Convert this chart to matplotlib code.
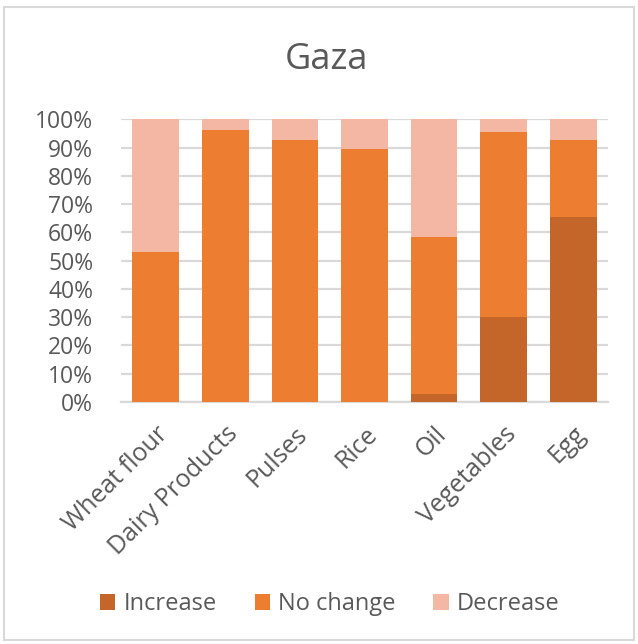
import matplotlib
matplotlib.use("Agg")
import matplotlib.pyplot as plt
from matplotlib.patches import Rectangle
import numpy as np

categories = ["Wheat flour", "Dairy Products", "Pulses", "Rice", "Oil", "Vegetables", "Egg"]
increase = [0.0, 0.0, 0.0, 0.0, 3.0, 30.2, 65.4]
no_change = [52.9, 96.3, 92.7, 89.6, 55.2, 65.2, 27.3]
decrease = [47.1, 3.7, 7.3, 10.4, 41.8, 4.6, 7.3]
series_names = ["Increase", "No change", "Decrease"]
colors = ["#C4662A", "#ED7D31", "#F4B7A3"]
yticks = [0, 10, 20, 30, 40, 50, 60, 70, 80, 90, 100]

plt.rcParams['font.family'] = ['Open Sans', 'DejaVu Sans']
text_color = "#595959"

fig = plt.figure(figsize=(6.38, 6.44), dpi=100)
ax = fig.add_axes([121/638, (644-402)/644, (608-121)/638, (402-119.3)/644])

x = np.arange(len(categories))
inc = np.array(increase) / 100
nc = np.array(no_change) / 100
dec = np.array(decrease) / 100
w = 0.67
ax.bar(x, inc, w, color=colors[0], label=series_names[0], zorder=3)
ax.bar(x, nc, w, bottom=inc, color=colors[1], label=series_names[1], zorder=3)
ax.bar(x, dec, w, bottom=inc + nc, color=colors[2], label=series_names[2], zorder=3)

ax.set_xlim(-0.5, len(categories) - 0.5)
ax.set_ylim(0, 1)
ax.set_yticks([t / 100 for t in yticks])
ax.set_yticklabels([f"{t}%" for t in yticks], fontsize=16.5, color=text_color)
ax.set_xticks(x)
ax.set_xticklabels(categories, rotation=45, ha="right", rotation_mode="anchor",
                   fontsize=18, color=text_color)
ax.tick_params(axis="both", length=0)
ax.tick_params(axis="x", pad=14)
ax.tick_params(axis="y", pad=20)
ax.grid(axis="y", color="#D9D9D9", linewidth=1.6, zorder=0)
for s in ["top", "right", "left"]:
    ax.spines[s].set_visible(False)
ax.spines["bottom"].set_color("#D9D9D9")
ax.spines["bottom"].set_linewidth(1.6)

fig.text(0.512, 1 - 60/644, "Gaza", ha="center", va="center", fontsize=26, color=text_color)

leg = fig.legend(loc="center", bbox_to_anchor=(0.517, 1 - 604/644), ncol=3, frameon=False,
                 fontsize=17, handlelength=0.65, handleheight=0.65, columnspacing=1.6,
                 handletextpad=0.35)
for t in leg.get_texts():
    t.set_color(text_color)

fig.patches.append(Rectangle((4/638, 4/644), 630/638, 633/644, transform=fig.transFigure,
                             fill=False, edgecolor="#D9D9D9", linewidth=1.5))

fig.savefig("out.png", dpi=100)
